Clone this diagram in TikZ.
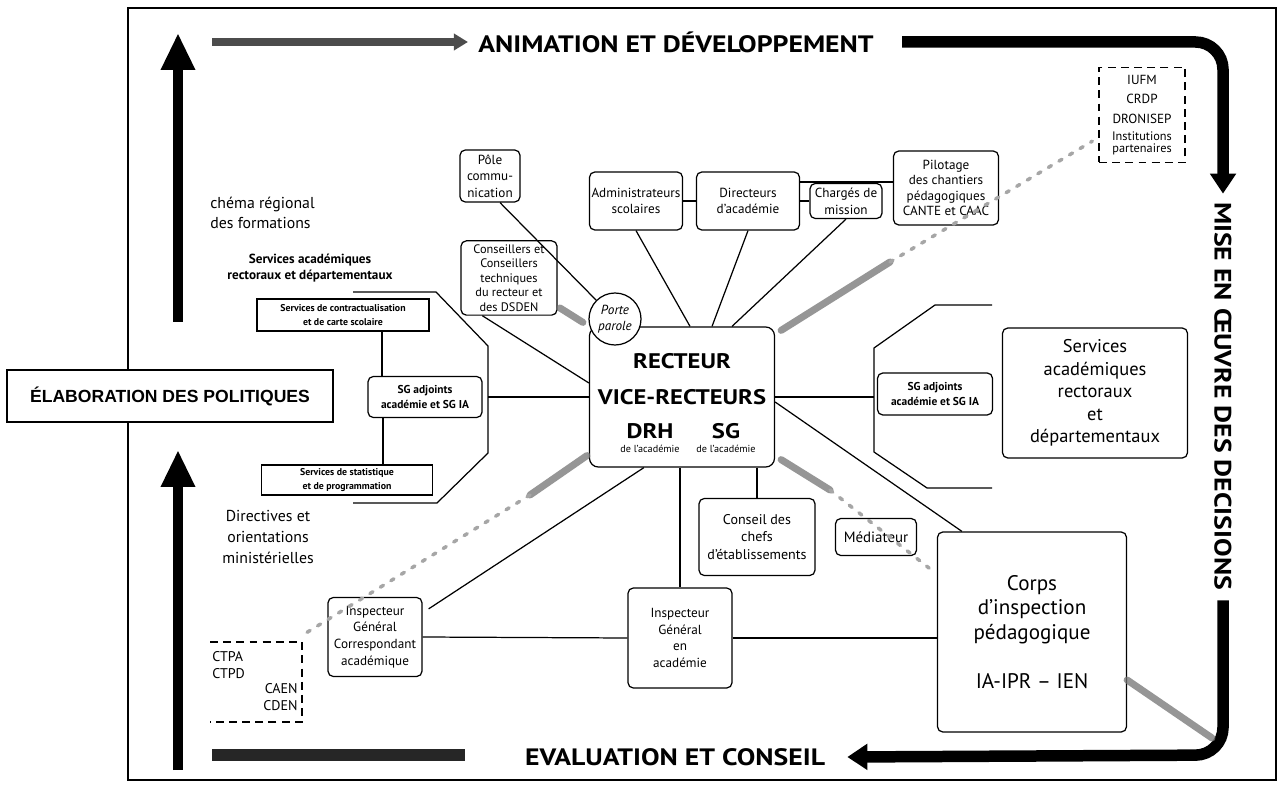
\documentclass[tikz,border=0pt]{standalone}
\usepackage{fontspec}
\setmainfont{PT Sans}
\newfontfamily\helv{Liberation Sans}
\newfontfamily\titrefont[FakeStretch=1.17]{PT Sans}
\usetikzlibrary{calc, arrows.meta, positioning}

\newcommand{\fsz}[2]{\fontsize{#1}{#2}\selectfont}

\tikzset{
  wh/.style 2 args={minimum width=#1*0.02cm, minimum height=#2*0.02cm},
  bx/.style={draw, rounded corners=3pt, align=center, inner sep=1pt, line width=0.7pt, fill=white, font=\fsz{7.5}{9.5}},
  sq/.style={draw, align=center, inner sep=1pt, line width=0.8pt, fill=white, font=\bfseries\fsz{5.6}{7.5}},
  pointille/.style={draw, dash pattern=on 4.5pt off 3pt, line width=0.8pt, align=center, inner sep=1pt, font=\fsz{7.5}{11}},
  titre/.style={font=\titrefont\bfseries\fsz{13.5}{15}, inner sep=0pt},
  gros/.style={font=\titrefont\bfseries\fsz{12}{14}, inner sep=0pt},
  petit/.style={font=\fsz{5.8}{7}, inner sep=0pt},
  lien/.style={line width=0.7pt},
  fleche/.style={line width=0.2cm, -{Triangle[length=0.74cm, width=0.64cm]}},
  barre/.style={line width=0.23cm, -{Triangle[length=0.4cm, width=0.5cm]}},
  ombre/.style={line width=4pt, draw=black!55, line cap=round, opacity=0.75},
  trace/.style={line width=2pt, draw=black!35, dash pattern=on 2pt off 5pt, line cap=round}
}

\begin{document}
\begin{tikzpicture}[x=0.02cm, y=-0.02cm, >=latex]
\useasboundingbox (0,0) rectangle (1283,786);

% cadre
\draw[line width=1.1pt] (128,8) rectangle (1276,780);

% les quatre titres
\node[titre] (anim) at (676,42) {ANIMATION ET DÉVELOPPEMENT};
\node[titre] (eval) at (675,757) {EVALUATION ET CONSEIL};
\node[titre, rotate=-90] (mise) at (1223,396) {MISE EN ŒUVRE DES DECISIONS};

% fleches du cycle
\coordinate (a0) at (212,42);
\coordinate (b0) at (212,755);
\draw[line width=0.15cm, draw=black!70, -{Triangle[length=0.28cm, width=0.32cm]}] (a0) -- ($(anim.west)+(-10,0)$);
\draw[barre, rounded corners=0.55cm] ($(anim.east)+(28,0)$) -- (1223,42) -- ($(mise.west)+(0,-8)$);
\draw[barre, rounded corners=0.55cm] ($(mise.east)+(0,10)$) -- (1223,755) -- ($(eval.east)+(22,0)$);
\draw[line width=0.24cm, draw=black!85] (b0) -- (465,755);

% fleches montantes a gauche
\coordinate (m1) at (178,322);
\coordinate (m2) at (178,770);
\draw[fleche] (m1) -- (178,33);
\draw[fleche] (m2) -- (178,450);

\node[draw, fill=white, line width=1pt, wh={326}{52}, font=\helv\bfseries\fsz{10}{12}] (elab) at (170,396) {ÉLABORATION DES POLITIQUES};

% textes libres a gauche
\node[anchor=west, align=left, font=\fsz{9}{11.4}, inner sep=0pt] (schema) at (210,213) {chéma régional\\des formations};
\node[align=center, font=\bfseries\fsz{7.5}{9.5}, inner sep=0pt] (servl) at (310,268) {Services académiques\\rectoraux et départementaux};
\node[align=center, font=\fsz{9}{11.7}, inner sep=0pt] (directives) at (268,537) {Directives et\\orientations\\ministérielles};

% encadres pointilles
\node[pointille, wh={86}{95}] (iufm) at (1142,115) {IUFM\\CRDP\\DRONISEP\\[-1pt]{\fsz{7}{8}Institutions}\\[-4.5pt]{\fsz{7}{8}partenaires}};
\draw[line width=0.8pt, dash pattern=on 4.5pt off 3pt] (210,642) -- (302,642) -- (302,722) -- (210,722);
\node[anchor=west, align=left, font=\fsz{8}{9.2}, inner sep=0pt] (ctpa) at (212,665) {CTPA\\CTPD};
\node[anchor=east, align=right, font=\fsz{8}{9.2}, inner sep=0pt] (caen) at (298,697) {CAEN\\CDEN};

% boites du haut
\node[bx, wh={60}{52}] (pole) at (490,176) {Pôle\\commu-\\nication};
\node[bx, wh={93}{58}] (admin) at (636,201) {Administrateurs\\scolaires};
\node[bx, wh={103}{58}] (dir) at (748,201) {Directeurs\\d’académie};
\node[bx, wh={72}{35}] (charges) at (846,201) {Chargés de\\mission};
\node[bx, wh={105}{74}, font=\fsz{7.5}{8.8}] (pilot) at (946,188) {Pilotage\\des chantiers\\pédagogiques\\CANTE et CAAC};
\node[bx, wh={96}{70}, inner sep=2pt, font=\fsz{7}{8.3}] (conseillers) at (509,278) {Conseillers et\\Conseillers\\techniques\\du recteur et\\des DSDEN};

% recteur
\node[bx, wh={185}{140}, rounded corners=5pt] (recteur) at (682,397) {};
\node[gros] (rect1) at ($(recteur)+(0,-36)$) {RECTEUR};
\node[gros] (rect2) at ($(recteur)+(0,0)$) {VICE-RECTEURS};
\node[gros] (drh) at ($(recteur)+(-32,34)$) {DRH};
\node[gros] (sg) at ($(recteur)+(44,34)$) {SG};
\node[petit] (drh2) at ($(recteur)+(-32,52)$) {de l’académie};
\node[petit] (sg2) at ($(recteur)+(44,52)$) {de l’académie};
\node[circle, draw, fill=white, line width=0.7pt, minimum size=52*0.02cm, inner sep=0pt, align=center, font=\itshape\fsz{7.5}{9}] (porte) at (615,319) {Porte\\parole};

% cote gauche
\node[bx, wh={114}{41}, font=\bfseries\fsz{6.5}{8}] (sgl) at (425,397) {SG adjoints\\académie et SG IA};
\node[sq, wh={172}{32}] (contract) at (343,315) {Services de contractualisation\\et de carte scolaire};
\node[sq, wh={171}{30}] (stat) at (347,480) {Services de statistique\\et de programmation};
\draw[lien] (353,292) -- (436,292) -- (488,346) -- (488,453) -- (437,503) -- (353,503);

% cote droit
\node[bx, wh={115}{42}, font=\bfseries\fsz{6.5}{8}] (sgr) at (935,394) {SG adjoints\\académie et SG IA};
\node[bx, wh={185}{130}, font=\fsz{10.5}{12.8}] (servr) at (1095,393) {Services\\académiques\\rectoraux\\et\\départementaux};
\draw[lien] (992,305) -- (935,305) -- (874,348) -- (874,452) -- (927,488) -- (992,488);

% bas
\node[bx, wh={116}{77}, font=\fsz{8}{9.8}] (conseil) at (757,537) {Conseil des\\chefs\\d’établissements};
\node[bx, wh={81}{37}, font=\fsz{8.5}{10}] (mediateur) at (876,537) {Médiateur};
\node[bx, wh={189}{200}, font=\fsz{12}{14}] (corps) at (1032,632) {Corps\\d’inspection\\pédagogique\\[14pt]IA-IPR – IEN};
\node[bx, wh={94}{79}] (ig1) at (375,637) {Inspecteur\\Général\\Correspondant\\académique};
\node[bx, wh={104}{100}] (ig2) at (680,638) {Inspecteur\\Général\\en\\académie};

% liaisons
\draw[lien] ($(pole.south)+(10,0)$) -- (porte.135);
\draw[lien] (admin.south) -- ($(recteur.north)+(8,0)$);
\draw[lien] (dir.south) -- ($(recteur.north)+(30,0)$);
\draw[lien] (charges.south) -- ($(recteur.north)+(50,0)$);
\draw[lien] (admin.east) -- (dir.west);
\draw[lien] (dir.east) -- (charges.west);
\draw[lien] ($(dir.east)+(0,-19)$) coordinate (dp) -- (dp -| pilot.west);
\draw[lien] ($(conseillers.south west)+(22,0)$) -- ($(recteur.west)+(0,-14)$);
\draw[lien] (recteur.west) -- (recteur.west -| 488,0);
\draw[lien] ($(contract.south)+(39,0)$) coordinate (c1) -- (c1 |- sgl.north);
\draw[lien] ($(stat.north)+(36,0)$) coordinate (c2) -- (c2 |- sgl.south);
\draw[lien] (recteur.east) -- (recteur.east -| 874,0);
\draw[lien] ($(recteur.east)+(0,5)$) -- ($(corps.north west)+(25,0)$);
\draw[lien] (recteur.south -| conseil.north) -- (conseil.north);
\draw[lien] (recteur.south -| ig2.north) -- (ig2.north);
\draw[lien] ($(recteur.south west)+(55,0)$) -- ($(ig1.north east)+(6,12)$);
\draw[lien] (ig1.east) -- (ig2.west);
\draw[lien] (ig2.east) -- (ig2.east -| corps.west);

% traces grises
\draw[ombre] ($(recteur.north east)+(6,4)$) -- (890,262);
\draw[trace] (890,262) -- ($(iufm.south west)+(-6,-22)$);
\draw[ombre] ($(recteur.north west)+(-6,-4)$) -- (560,308);
\draw[ombre] ($(recteur.south west)+(-2,-12)$) -- (530,495);
\draw[trace] (530,495) -- ($(ctpa.north east)+(60,-18)$);
\draw[ombre] ($(recteur.south east)+(6,-8)$) -- (830,490);
\draw[trace] (830,490) -- ($(mediateur.south east)+(12,12)$);
\draw[ombre] ($(corps.east)+(0,48)$) -- (1212,738);
\end{tikzpicture}
\end{document}
